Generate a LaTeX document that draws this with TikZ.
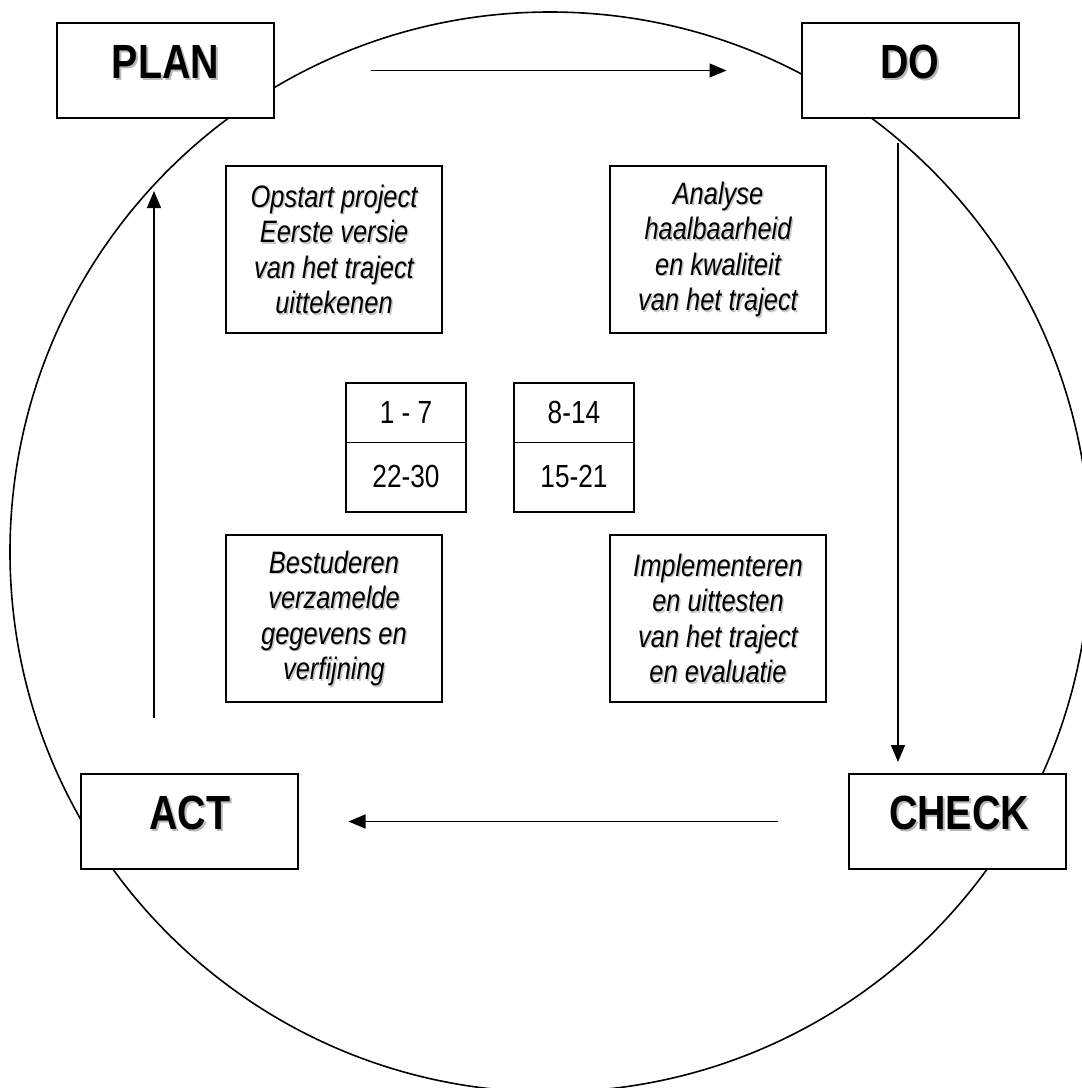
\documentclass[tikz,border=0pt]{standalone}
\usepackage{fontspec}
\setmainfont{Liberation Sans}
\newfontfamily\narrowfont[FakeStretch=0.82]{Liberation Sans}
\usetikzlibrary{arrows.meta,calc}
\tikzset{
  tbox/.style={draw, line width=2pt, fill=white, minimum width=217pt, minimum height=95pt, inner sep=0pt},
  ttext/.style={font=\narrowfont\bfseries\fontsize{48}{52}\selectfont, inner sep=0pt},
  tshadow/.style={ttext, text=black!28},
  ibox/.style={draw, line width=2pt, fill=white, minimum width=216pt, minimum height=167pt, inner sep=0pt},
  itext/.style={font=\narrowfont\itshape\fontsize{31}{35.5}\selectfont, align=center, inner sep=0pt},
  ishadow/.style={itext, text=black!22},
  ncell/.style={fill=white, minimum width=120pt, inner sep=0pt, font=\narrowfont\fontsize{32}{36}\selectfont},
  arr/.style={line width=1.5pt, -{Triangle[length=17pt,width=14pt]}},
}
\begin{document}
\begin{tikzpicture}[x=1pt,y=-1pt]
\useasboundingbox (0,0) rectangle (1082,1088);
\clip (0,0) rectangle (1082,1088);
\fill[white] (0,0) rectangle (1082,1088);
\draw[line width=1.6pt] (550,552) circle[radius=540pt];

% title boxes
\node[tbox] (plan) at (165.5,70.5) {};
\node[tbox] (do) at (910,70.5) {};
\node[tbox] (act) at (189,821.5) {};
\node[tbox] (check) at (957.5,821.5) {};

\node[tshadow] (planS) at (167.5,64) {PLAN};
\node[ttext] (planT) at (165.5,62) {PLAN};
\node[tshadow] (doS) at (912,64) {DO};
\node[ttext] (doT) at (910,62) {DO};
\node[tshadow] (actS) at (192,815) {ACT};
\node[ttext] (actT) at (190,813) {ACT};
\node[tshadow] (checkS) at (961,815) {CHECK};
\node[ttext] (checkT) at (959,813) {CHECK};

% italic boxes
\node[ibox] (b1) at (334,249.5) {};
\node[ishadow] (s1) at ($(b1.center)+(1.5,1.5)$) {Opstart project\\Eerste versie\\van het traject\\uittekenen};
\node[itext] (t1) at (b1.center) {Opstart project\\Eerste versie\\van het traject\\uittekenen};
\node[ibox] (b2) at (718,249.5) {};
\node[ishadow] (s2) at ($(b2.center)+(1.5,1.5)$) {Analyse\\haalbaarheid\\en kwaliteit\\van het traject};
\node[itext] (t2) at (b2.center) {Analyse\\haalbaarheid\\en kwaliteit\\van het traject};
\node[ibox] (b3) at (334,618.5) {};
\node[ishadow] (s3) at ($(b3.center)+(1.5,1.5)$) {Bestuderen\\verzamelde\\gegevens en\\verfijning};
\node[itext] (t3) at (b3.center) {Bestuderen\\verzamelde\\gegevens en\\verfijning};
\node[ibox] (b4) at (718,618.5) {};
\node[ishadow] (s4) at ($(b4.center)+(1.5,1.5)$) {Implementeren\\en uittesten\\van het traject\\en evaluatie};
\node[itext] (t4) at (b4.center) {Implementeren\\en uittesten\\van het traject\\en evaluatie};

% number boxes
\node[ncell, minimum height=59pt] (n1) at (406,412.5) {1 - 7};
\node[ncell, minimum height=69pt, anchor=north] (n2) at (n1.south) {22-30};
\draw[line width=2pt] (n1.north west) rectangle (n2.south east);
\draw[line width=1.3pt] (n1.south west) -- (n1.south east);
\node[ncell, minimum height=59pt] (n3) at (574,412.5) {8-14};
\node[ncell, minimum height=69pt, anchor=north] (n4) at (n3.south) {15-21};
\draw[line width=2pt] (n3.north west) rectangle (n4.south east);
\draw[line width=1.3pt] (n3.south west) -- (n3.south east);

% arrows
\draw[arr, shorten <=96pt, shorten >=74pt] (plan) -- (do);
\coordinate (dc1) at (898,143);
\coordinate (dc2) at (898,762);
\draw[arr] (dc1) -- (dc2);
\draw[arr, shorten <=70pt, shorten >=50pt] (check) -- (act);
\coordinate (ap1) at (154,718);
\coordinate (ap2) at (154,191);
\draw[arr] (ap1) -- (ap2);
\end{tikzpicture}
\end{document}
